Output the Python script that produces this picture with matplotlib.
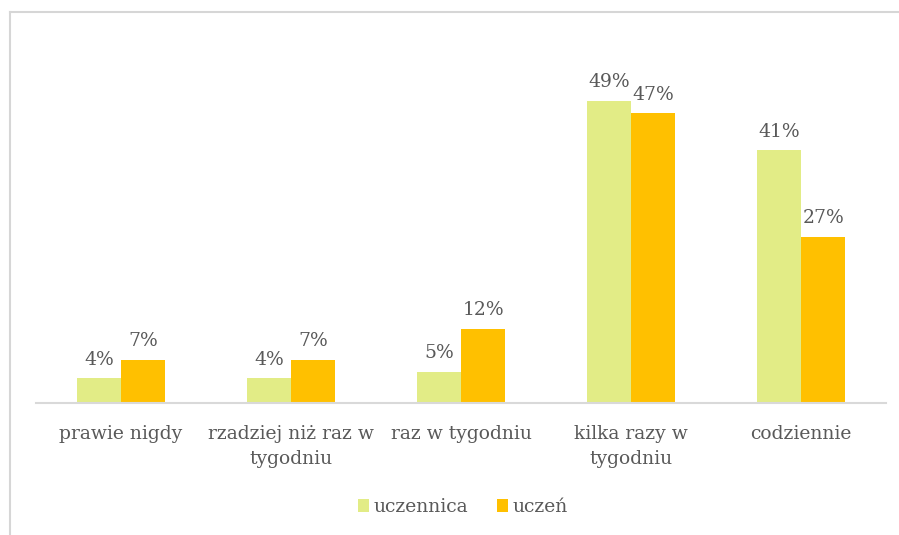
import matplotlib.pyplot as plt
import numpy as np
from matplotlib.lines import Line2D

categories = ["prawie nigdy", "rzadziej niż raz w\ntygodniu", "raz w tygodniu",
              "kilka razy w\ntygodniu", "codziennie"]
uczennica = [4, 4, 5, 49, 41]
uczen = [7, 7, 12, 47, 27]
series_names = ["uczennica", "uczeń"]

GREEN = "#E2EC86"
ORANGE = "#FFC000"
TEXT = "#595959"

plt.rcParams["font.family"] = ["DejaVu Serif"]

fig = plt.figure(figsize=(8.99, 5.35), dpi=100)
ax = fig.add_axes([36 / 899, 1 - 403 / 535, 850 / 899, 339 / 535])

x = np.arange(len(categories))
w = 0.26
b1 = ax.bar(x - w / 2, uczennica, w, color=GREEN, label=series_names[0])
b2 = ax.bar(x + w / 2, uczen, w, color=ORANGE, label=series_names[1])

# percentage labels above each bar
for bars, vals in ((b1, uczennica), (b2, uczen)):
    for bar, v in zip(bars, vals):
        ax.annotate(f"{v}%", (bar.get_x() + bar.get_width() / 2, v),
                    xytext=(0, 7), textcoords="offset points",
                    ha="center", va="bottom", fontsize=13.5, color=TEXT)

ax.set_xlim(-0.5, len(categories) - 0.5)
ax.set_ylim(0, 55)
ax.set_yticks([])
ax.set_xticks(x)
ax.set_xticklabels(categories, fontsize=13.5, color=TEXT, linespacing=1.45)
ax.tick_params(axis="x", length=0, pad=16)
for side in ("top", "right", "left"):
    ax.spines[side].set_visible(False)
ax.spines["bottom"].set_color("#D9D9D9")
ax.spines["bottom"].set_linewidth(1.5)

leg = fig.legend(loc="center", bbox_to_anchor=(463 / 899, 1 - 507 / 535),
                 ncol=2, frameon=False, fontsize=13.5, handlelength=0.6,
                 handleheight=0.75, handletextpad=0.25, columnspacing=1.5)
for t in leg.get_texts():
    t.set_color(TEXT)

# thin frame edge along the top and left
fig.add_artist(Line2D([10 / 899, 1], [1 - 12 / 535] * 2, color="#D6D6D6", lw=1.5))
fig.add_artist(Line2D([10 / 899] * 2, [0, 1 - 12 / 535], color="#D6D6D6", lw=1.5))

fig.savefig("out.png", dpi=100)
